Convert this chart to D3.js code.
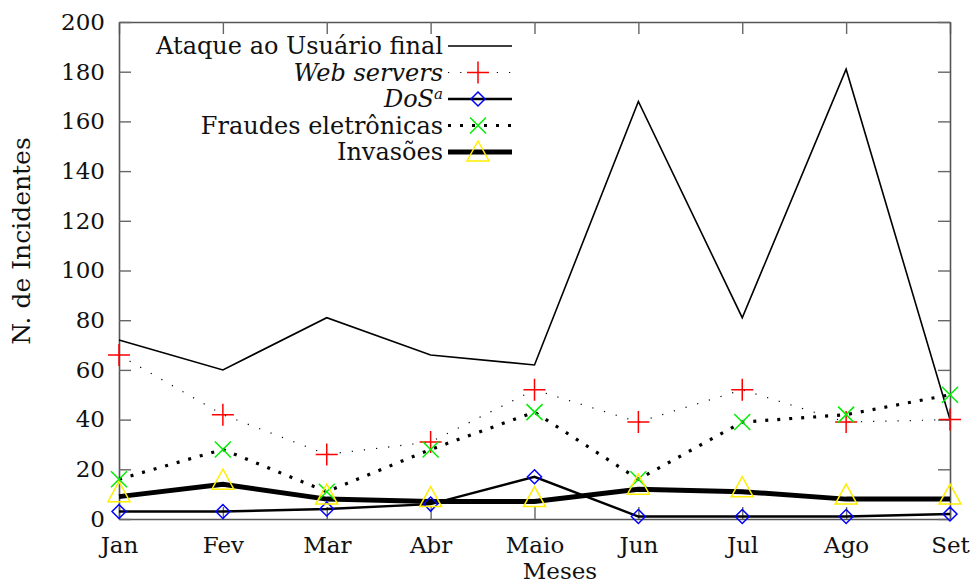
<!DOCTYPE html>
<html>
<head>
<meta charset="utf-8">
<script src="https://cdn.jsdelivr.net/npm/d3@7"></script>
<style>
  body { margin: 0; background: #fff; }
</style>
</head>
<body>
<svg id="chart"></svg>
<script>
const meses = ["Jan", "Fev", "Mar", "Abr", "Maio", "Jun", "Jul", "Ago", "Set"];
const yTicks = [0, 20, 40, 60, 80, 100, 120, 140, 160, 180, 200];

const ataque   = [72, 60, 81, 66, 62, 168, 81, 181, 40];
const webServ  = [66, 42, 26, 31, 52, 39, 52, 39, 40];
const dos      = [3, 3, 4, 6, 17, 1, 1, 1, 2];
const fraudes  = [16, 28, 11, 28, 43, 16, 39, 42, 50];
const invasoes = [9, 14, 8, 7, 7, 12, 11, 8, 8];

const w = 974, h = 584;
const padL = 119, padR = 950, padT = 22, padB = 519;
const font = '"DejaVu Serif", "Liberation Serif", serif';
const fs = '23px';

const svg = d3.select('#chart').attr('width', w).attr('height', h);

const xSc = d3.scalePoint().domain(meses).range([padL, padR]);
const ySc = d3.scaleLinear().domain([0, 200]).range([padB, padT]);

// series definitions (styles only)
const series = [
  { name: "Ataque ao Usuário final", vals: ataque, width: 1.6, dash: null, marker: null },
  { name: "Web servers", italic: true, vals: webServ, width: 1.2, dash: '1.2 11', marker: 'plus', color: '#ff0000' },
  { name: "DoS", sup: "a", italic: true, vals: dos, width: 2.4, dash: null, marker: 'diamond', color: '#0000ff' },
  { name: "Fraudes eletrônicas", vals: fraudes, width: 3.2, dash: '3 9', marker: 'cross', color: '#00ee00' },
  { name: "Invasões", vals: invasoes, width: 5, dash: null, marker: 'tri', color: '#ffee00' }
];

let drawMarker = (g, type, color, x, y) => {
  let d;
  if (type === 'plus') d = `M${x-11},${y}H${x+11}M${x},${y-11}V${y+11}`;
  else if (type === 'diamond') d = `M${x},${y-7}L${x+7},${y}L${x},${y+7}L${x-7},${y}Z`;
  else if (type === 'cross') d = `M${x-8},${y-8}L${x+8},${y+8}M${x-8},${y+8}L${x+8},${y-8}`;
  else if (type === 'tri') d = `M${x},${y-15}L${x+11},${y+5}L${x-11},${y+5}Z`;
  g.append('path').attr('d', d)
    .attr('stroke', color).attr('stroke-width', 1.5).attr('fill', 'none');
};

// axes frame with inward ticks
let xAxisB = d3.axisBottom(xSc).tickSizeInner(-12).tickSizeOuter(0).tickPadding(18);
let xAxisT = d3.axisTop(xSc).tickSizeInner(-12).tickSizeOuter(0).tickFormat('');
let yAxisL = d3.axisLeft(ySc).tickValues(yTicks).tickSizeInner(-12).tickSizeOuter(0).tickPadding(14);
let yAxisR = d3.axisRight(ySc).tickValues(yTicks).tickSizeInner(-12).tickSizeOuter(0).tickFormat('');

[[xAxisB, `translate(0,${padB})`], [xAxisT, `translate(0,${padT})`],
 [yAxisL, `translate(${padL},0)`], [yAxisR, `translate(${padR},0)`]].forEach(([ax, tr]) => {
  let g = svg.append('g').attr('transform', tr).call(ax)
    .attr('font-family', font).attr('font-size', fs);
  g.select('.domain').attr('stroke', '#555').attr('stroke-width', 1.6);
  g.selectAll('.tick line').attr('stroke', '#666').attr('stroke-width', 1.4);
  g.selectAll('.tick text').attr('fill', '#111');
});

// series lines
let line = d3.line().x((d, i) => xSc(meses[i])).y(d => ySc(d));

series.forEach(s => {
  svg.append('path').datum(s.vals)
    .attr('d', line)
    .attr('fill', 'none')
    .attr('stroke', '#000')
    .attr('stroke-width', s.width)
    .attr('stroke-dasharray', s.dash)
    .attr('stroke-linejoin', 'miter');
});

series.forEach(s => {
  if (!s.marker) return;
  let g = svg.append('g');
  s.vals.forEach((v, i) => drawMarker(g, s.marker, s.color, xSc(meses[i]), ySc(v)));
});

// legend
let leg = svg.append('g').attr('font-family', font).attr('font-size', '24px');
series.forEach((s, i) => {
  let y = 46 + i * 26.5;
  let t = leg.append('text').attr('x', 443).attr('y', y + 8)
    .attr('text-anchor', 'end').attr('fill', '#111');
  t.append('tspan').text(s.name).attr('font-style', s.italic ? 'italic' : 'normal');
  if (s.sup) t.append('tspan').text(s.sup).attr('dy', -8).attr('font-size', '15px').attr('font-style', 'italic');
  leg.append('path').attr('d', `M448,${y}H512`)
    .attr('stroke', '#000').attr('stroke-width', s.width)
    .attr('stroke-dasharray', s.dash).attr('fill', 'none');
  if (s.marker) drawMarker(leg, s.marker, s.color, 478, y + (s.marker === 'tri' ? 4 : 0));
});

// axis titles
svg.append('text').attr('x', 560).attr('y', 579).attr('text-anchor', 'middle')
  .attr('font-family', font).attr('font-size', fs).attr('fill', '#111').text('Meses');
svg.append('text').attr('transform', 'translate(30,241) rotate(-90)').attr('text-anchor', 'middle')
  .attr('font-family', font).attr('font-size', '25px').attr('fill', '#111').text('N. de Incidentes');
</script>
</body>
</html>
